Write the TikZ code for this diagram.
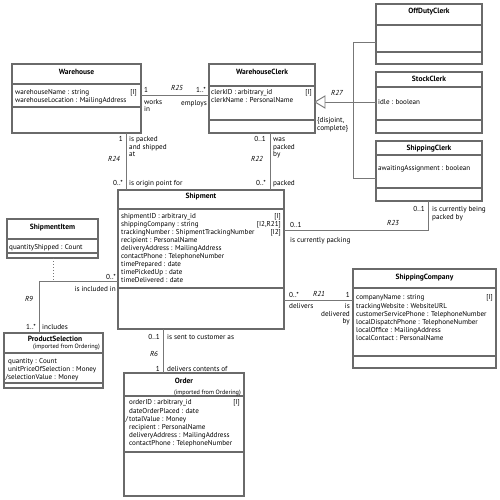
\documentclass[tikz,border=0pt]{standalone}
\usepackage{fontspec}
\setmainfont{PT Sans}
\definecolor{boxline}{HTML}{6A6A6A}
\definecolor{conline}{HTML}{777777}
\newcommand\clsbox[7]{%
  \node[cls, minimum width=#4pt, minimum height=#5pt] (#1) at (#2,#3) {};
  \draw[sep] (#1.west |- 0,#6) -- (#1.east |- 0,#6);
  \draw[sep] (#1.west |- 0,#7) -- (#1.east |- 0,#7);
}
\begin{document}
\begin{tikzpicture}[x=1pt,y=-1pt,
  cls/.style={draw=boxline, line width=1.2pt, fill=white, anchor=north west, inner sep=0pt, outer sep=0pt},
  sep/.style={draw=boxline, line width=1.2pt},
  con/.style={draw=conline, line width=0.9pt},
  ttl/.style={font=\fontsize{7.5}{8}\selectfont\bfseries, inner sep=0pt, anchor=base},
  sub/.style={font=\fontsize{6.2}{7}\selectfont, inner sep=0pt, anchor=base east},
  attr/.style={font=\fontsize{7.1}{8.1}\selectfont, inner sep=0pt, anchor=north west, align=left},
  idx/.style={font=\fontsize{7.1}{8.1}\selectfont, inner sep=0pt, anchor=north east, align=right},
  lbl/.style={font=\fontsize{7.2}{7.5}\selectfont, inner sep=0pt},
  rel/.style={font=\fontsize{7.2}{7.5}\selectfont\itshape, inner sep=0pt, anchor=base},
  ml/.style={font=\fontsize{7.2}{7.5}\selectfont, inner sep=0pt, anchor=north west, align=left},
  mr/.style={font=\fontsize{7.2}{7.5}\selectfont, inner sep=0pt, anchor=north east, align=right}
]
\fill[white] (0,0) rectangle (500,499);
\useasboundingbox (0,0) rectangle (500,499);

% ---------- class boxes ----------
\clsbox{off}{376}{4}{106}{60}{25}{52}
\clsbox{wh}{12}{64}{129}{69}{84}{107}
\clsbox{wc}{209}{64}{106}{69}{86}{120}
\clsbox{stk}{376}{72}{106}{61}{87}{120}
\clsbox{shc}{376}{141}{106}{60}{155}{188}
\clsbox{ship}{118}{190}{166}{139}{209}{288}
\clsbox{item}{7}{219}{91}{39}{239}{253}
\clsbox{ps}{4}{333}{99}{55}{353}{383}
\clsbox{ord}{124}{373}{120}{123}{396}{452}
\clsbox{sc}{353}{269}{143}{99}{288}{356}

% ---------- titles ----------
\node[ttl] (offT) at (429,13.5) {OffDutyClerk};
\node[ttl] (whT) at (76.5,74.8) {Warehouse};
\node[ttl] (wcT) at (262,74.2) {WarehouseClerk};
\node[ttl] (stkT) at (429,81.5) {StockClerk};
\node[ttl] (shcT) at (429,150.2) {ShippingClerk};
\node[ttl] (shipT) at (201,198.5) {Shipment};
\node[ttl] (itemT) at (52.5,229.2) {ShipmentItem};
\node[ttl] (psT) at (55,341.8) {ProductSelection};
\node[sub] (psS) at (100,348.5) {(imported from Ordering)};
\node[ttl] (ordT) at (184,383.5) {Order};
\node[sub] (ordS) at (241,394) {(imported from Ordering)};
\node[ttl] (scT) at (424.5,279.2) {ShippingCompany};

% ---------- attributes ----------
\node[attr] (whA) at (15,88.8) {\strut warehouseName : string\\warehouseLocation : MailingAddress};
\node[idx] (whI) at (137,88.8) {\strut[I]};
\node[attr] (wcA) at (211,88.8) {\strut clerkID : arbitrary\_id\\clerkName : PersonalName};
\node[idx] (wcI) at (312,88.8) {\strut[I]};
\node[attr] (stkA) at (378,98.8) {\strut idle : boolean};
\node[attr] (shcA) at (378,164.8) {\strut awaitingAssignment : boolean};
\node[attr] (shipA) at (121,212.3) {\strut shipmentID : arbitrary\_id\\shippingCompany : string\\trackingNumber : ShipmentTrackingNumber\\recipient : PersonalName\\deliveryAddress : MailingAddress\\contactPhone : TelephoneNumber\\timePrepared : date\\timePickedUp : date\\timeDelivered : date};
\node[idx] (shipI) at (281,212.3) {\strut[I]\\{[I2,R21]}\\{[I2]}};
\node[attr] (itemA) at (9,243.5) {\strut quantityShipped : Count};
\node[attr] (psA) at (8,357.5) {\strut quantity : Count\\unitPriceOfSelection : Money\\\llap{/}selectionValue : Money};
\node[attr] (ordA) at (129,399.1) {\strut orderID : arbitrary\_id\\dateOrderPlaced : date\\\llap{/\,}totalValue : Money\\recipient : PersonalName\\deliveryAddress : MailingAddress\\contactPhone : TelephoneNumber};
\node[idx] (ordI) at (240,399.1) {\strut[I]};
\node[attr] (scA) at (356,294.1) {\strut companyName : string\\trackingWebsite : WebsiteURL\\customerServicePhone : TelephoneNumber\\localDispatchPhone : TelephoneNumber\\localOffice : MailingAddress\\localContact : PersonalName};
\node[idx] (scI) at (493,294.1) {\strut[I]};

% ---------- connectors ----------
% R25
\draw[con] (wh.east |- 0,95) -- (wc.west |- 0,95);
% R24
\draw[con] (126,0 |- wh.south) -- (126,0 |- ship.north);
% R22
\draw[con] (270,0 |- wc.south) -- (270,0 |- ship.north);
% R23
\coordinate (r23c) at (428,230);
\draw[con] (428,0 |- shc.south) -- (r23c) -- (ship.east |- r23c);
% R21
\draw[con] (ship.east |- 0,300) -- (sc.west |- 0,300);
% R6
\draw[con] (163,0 |- ship.south) -- (163,0 |- ord.north);
% R9
\coordinate (r9c) at (39,281);
\coordinate (r9d) at (53,281);
\draw[con] (ship.west |- r9c) -- (r9c) -- (39,0 |- ps.north);
\draw[con, dash pattern=on 1pt off 2pt] (53,0 |- item.south) -- (r9d);
% R27 generalization
\coordinate (gtip) at (wc.east |- 0,102);
\coordinate (gbase) at (325,102);
\coordinate (gtop) at (353,42);
\coordinate (gbot) at (353,178);
\draw[con] (gbase) -- (stk.west |- gbase);
\draw[con] (gtop) -- (gbot);
\draw[con] (gtop) -- (off.west |- gtop);
\draw[con] (gbot) -- (shc.west |- gbot);
\draw[con, fill=white] (gtip) -- (325,96) -- (325,108) -- cycle;

% ---------- labels ----------
% R25
\node[lbl, anchor=base west] (l25a) at (144,92.5) {1};
\node[rel] (r25) at (177,90.5) {R25};
\node[lbl, anchor=base east] (l25b) at (206,92.5) {1..*};
\node[ml] (l25c) at (144,98.9) {\strut works\\in};
\node[lbl, anchor=base east] (l25d) at (207,105.8) {employs};
% R24
\node[lbl, anchor=base east] (l24a) at (123,141.8) {1};
\node[ml] (l24b) at (129,136.5) {\strut is packed\\and shipped\\at};
\node[rel] (r24) at (114,161.8) {R24};
\node[lbl, anchor=base east] (l24c) at (123,185.2) {0..*};
\node[lbl, anchor=base west] (l24d) at (129,185.2) {is origin point for};
% R22
\node[lbl, anchor=base east] (l22a) at (266,141.8) {0..1};
\node[ml] (l22b) at (273,136.5) {\strut was\\packed\\by};
\node[rel] (r22) at (257,161.8) {R22};
\node[lbl, anchor=base east] (l22c) at (266,185.8) {0..*};
\node[lbl, anchor=base west] (l22d) at (273,185.8) {packed};
% R27
\node[rel] (r27) at (337,95.8) {R27};
\node[ml] (l27) at (317,117.2) {\strut\{disjoint,\\complete\}};
% R23
\node[lbl, anchor=base east] (l23a) at (425,211.5) {0..1};
\node[ml] (l23b) at (432,206.3) {\strut is currently being\\packed by};
\node[rel] (r23) at (393,225.8) {R23};
\node[lbl, anchor=base west] (l23c) at (290,227.5) {0..1};
\node[lbl, anchor=base west] (l23d) at (290,242.5) {is currently packing};
% R9
\node[lbl, anchor=base east] (l9a) at (116,279) {0..*};
\node[lbl, anchor=base east] (l9b) at (116,291) {is included in};
\node[rel] (r9) at (29,301.8) {R9};
\node[lbl, anchor=base east] (l9c) at (36,329.5) {1..*};
\node[lbl, anchor=base west] (l9d) at (42,329.5) {includes};
% R6
\node[lbl, anchor=base east] (l6a) at (160,339.2) {0..1};
\node[lbl, anchor=base west] (l6b) at (167,339.2) {is sent to customer as};
\node[rel] (r6) at (154,356.5) {R6};
\node[lbl, anchor=base east] (l6c) at (160,371) {1};
\node[lbl, anchor=base west] (l6d) at (167,371) {delivers contents of};
% R21
\node[lbl, anchor=base west] (l21a) at (289,297) {0..*};
\node[rel] (r21) at (319,296) {R21};
\node[lbl, anchor=base east] (l21b) at (350,297.5) {1};
\node[lbl, anchor=base west] (l21c) at (289,308.5) {delivers};
\node[mr] (l21d) at (350,303.3) {\strut is\\delivered\\by};
\end{tikzpicture}
\end{document}
